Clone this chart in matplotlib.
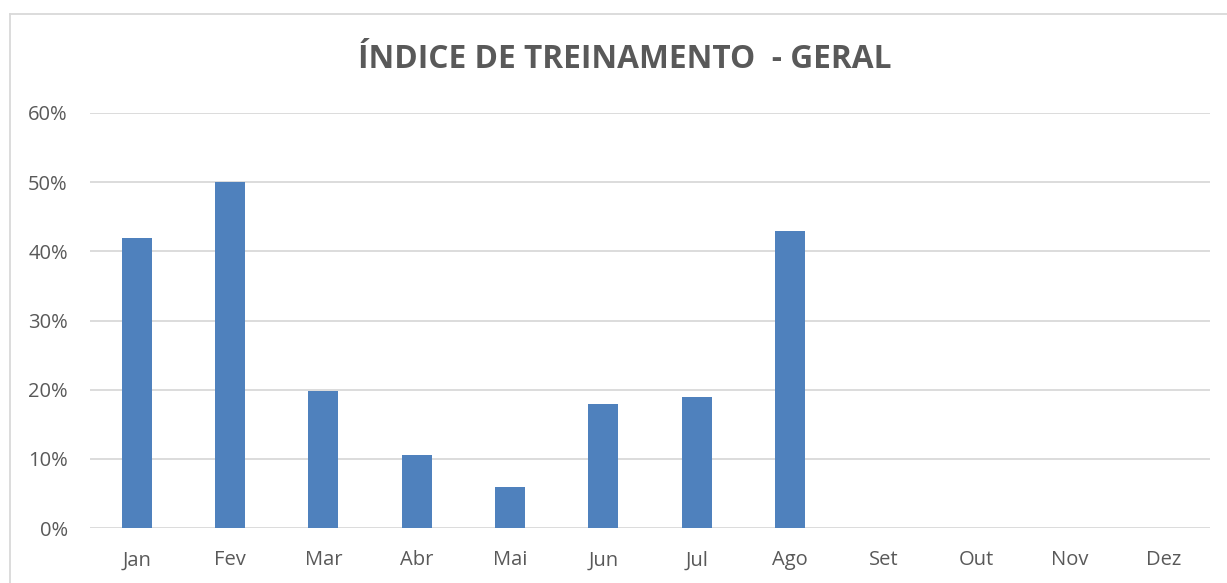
import numpy as np
import matplotlib
matplotlib.use('Agg')
import matplotlib.pyplot as plt
from matplotlib.ticker import PercentFormatter

months = ['Jan', 'Fev', 'Mar', 'Abr', 'Mai', 'Jun', 'Jul', 'Ago', 'Set', 'Out', 'Nov', 'Dez']
indice = [0.42, 0.50, 0.198, 0.106, 0.06, 0.18, 0.19, 0.43, 0, 0, 0, 0]

plt.rcParams['font.family'] = ['Open Sans', 'DejaVu Sans']
text_color = '#595959'
bar_color = '#4F81BD'
grid_color = '#D9D9D9'

fig = plt.figure(figsize=(12.27, 5.83), dpi=100)
ax = fig.add_axes([90 / 1227, 1 - 528 / 583, 1120 / 1227, 415 / 583])

x = np.arange(len(months))
ax.bar(x, indice, width=0.32, color=bar_color, zorder=3)

ax.set_xlim(-0.5, len(months) - 0.5)
ax.set_ylim(0, 0.6)
ax.set_yticks(np.arange(0, 0.61, 0.1))
ax.yaxis.set_major_formatter(PercentFormatter(1.0, decimals=0))
ax.set_xticks(x)
ax.set_xticklabels(months)
ax.tick_params(axis='both', length=0, labelsize=14.5, colors=text_color)
ax.tick_params(axis='x', pad=16)
ax.tick_params(axis='y', pad=16)
ax.grid(axis='y', color=grid_color, linewidth=1.3, zorder=0)
for s in ax.spines.values():
    s.set_visible(False)

fig.text(625 / 1227, 1 - 60 / 583, 'ÍNDICE DE TREINAMENTO  - GERAL', ha='center', va='center',
         fontsize=22.8, fontweight='bold', color=text_color)

# chart border (top and left visible)
fig.add_artist(plt.Line2D([10 / 1227, 10 / 1227], [0, 1 - 14 / 583], color=grid_color, linewidth=1.3))
fig.add_artist(plt.Line2D([10 / 1227, 1], [1 - 14 / 583, 1 - 14 / 583], color=grid_color, linewidth=1.3))

fig.savefig('out.png', dpi=100)
